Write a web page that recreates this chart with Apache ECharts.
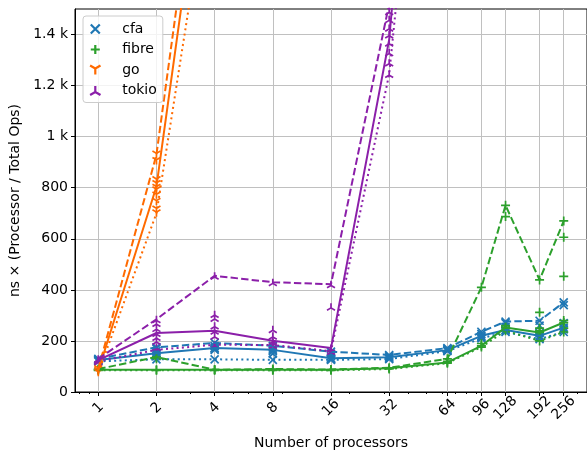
<!DOCTYPE html>
<html><head><meta charset="utf-8">
<script src="https://cdn.jsdelivr.net/npm/echarts@6/dist/echarts.min.js"></script>
<style>html,body{margin:0;padding:0;background:#fff}#c{width:587px;height:455px}</style>
</head><body><div id="c"></div>
<script>
// ---- data ----
const processors = [1, 2, 4, 8, 16, 32, 64, 96, 128, 192, 256];
const xTickLabels = ['1', '2', '4', '8', '16', '32', '64', '96', '128', '192', '256'];
const xMinorTicks = [0.8, 0.9, 3, 5, 6, 7, 9, 20, 30, 40, 50, 60, 70, 80, 90, 200, 300];
const yTickValues = [0, 200, 400, 600, 800, 1000, 1200, 1400];
const names = ['cfa', 'fibre', 'go', 'tokio'];

const cfaMedian = [125, 152, 172, 165, 132, 136, 164, 220, 243, 220, 252];
const cfaMax    = [130, 175, 192, 181, 158, 145, 172, 236, 276, 279, 351];
const cfaMin    = [120, 128, 128, 126, 126, 129, 160, 210, 235, 207, 235];
const cfaRuns = [
  [120, 123, 125, 127, 130],
  [128, 140, 150, 152, 160, 170, 175],
  [128, 165, 170, 172, 180, 192],
  [126, 150, 160, 165, 170, 181],
  [126, 128, 130, 132, 140, 150, 158],
  [129, 132, 136, 140, 145],
  [160, 162, 164, 168, 172],
  [210, 215, 220, 228, 236],
  [235, 240, 243, 255, 270, 276],
  [207, 215, 220, 230, 260, 279],
  [235, 245, 252, 270, 340, 351]
];

const fibreMedian = [87, 87, 87, 87, 87, 93, 116, 181, 253, 233, 272];
const fibreMax    = [90, 137, 87, 90, 88, 95, 130, 410, 731, 439, 670];
const fibreMin    = [85, 85, 85, 85, 85, 90, 113, 176, 240, 200, 235];
const fibreRuns = [
  [85, 87, 90],
  [85, 87, 130, 137],
  [85, 87, 88],
  [85, 87, 90],
  [85, 87, 88],
  [90, 93, 95],
  [113, 116, 120, 130],
  [176, 181, 190, 410],
  [240, 253, 260, 687, 731],
  [200, 225, 233, 240, 250, 312, 439],
  [235, 250, 272, 280, 453, 606, 670]
];

const goMedian = [83, 805, 2450];
const goMax    = [90, 930, 2600];
const goMin    = [75, 700, 2150];
const goRuns = [
  [75, 83, 90],
  [700, 715, 745, 770, 790, 800, 815, 830, 905, 930],
  [2150, 2450, 2600]
];

const tokioMedian = [125, 231, 240, 201, 172, 1380, 4000];
const tokioMax    = [130, 285, 455, 430, 422, 1520, 4500];
const tokioMin    = [120, 165, 185, 184, 160, 1245, 3500];
const tokioRuns = [
  [120, 125, 130],
  [176, 200, 215, 231, 250, 270, 285],
  [185, 220, 240, 260, 290, 305, 455],
  [184, 195, 201, 220, 246, 430],
  [160, 170, 172, 334, 422],
  [1245, 1290, 1330, 1368, 1400, 1426, 1460, 1491, 1520]
];

// ---- styling ----
const FONT = 'DejaVu Sans';
const colors = { cfa: '#1f77b4', fibre: '#2ca02c', go: '#ff6a00', tokio: '#8b1fa9' };
const symbols = {
  cfa: 'path://M-1,-1L1,1M-1,1L1,-1',
  fibre: 'path://M0,-1L0,1M-1,0L1,0',
  go: 'path://M0,0L0,1M0,0L0.866,-0.5M0,0L-0.866,-0.5',
  tokio: 'path://M0,0L0,-1M0,0L0.866,0.5M0,0L-0.866,0.5'
};
const symSize = { cfa: 8, fibre: 9, go: 8, tokio: 8 };
const dataSets = {
  cfa: [cfaMedian, cfaMax, cfaMin, cfaRuns],
  fibre: [fibreMedian, fibreMax, fibreMin, fibreRuns],
  go: [goMedian, goMax, goMin, goRuns],
  tokio: [tokioMedian, tokioMax, tokioMin, tokioRuns]
};

const series = [];
names.forEach(n => {
  const [med, mx, mn, runs] = dataSets[n];
  const c = colors[n];
  const mk = (arr, type, suffix) => ({
    name: n + suffix, type: 'line', xAxisIndex: 0, yAxisIndex: 0,
    data: arr.map((v, i) => [processors[i], v]),
    showSymbol: false, symbol: 'none', silent: true, animation: false,
    lineStyle: { color: c, width: 2, type: type }
  });
  series.push(mk(med, 'solid', '-median'));
  series.push(mk(mx, [7.4, 3.2], '-max'));
  series.push(mk(mn, [2, 3.3], '-min'));
  const pts = [];
  runs.forEach((list, i) => list.forEach(v => pts.push([processors[i], v])));
  series.push({
    name: n, type: 'scatter', xAxisIndex: 0, yAxisIndex: 0, data: pts,
    symbol: symbols[n], symbolSize: symSize[n], symbolKeepAspect: true,
    silent: true, animation: false,
    itemStyle: { color: 'rgba(0,0,0,0)', borderColor: c, borderWidth: 1.7, opacity: 1 }
  });
});

const xTickPos = processors.map(p => Math.log2(p));
const xMinorPos = xMinorTicks.map(p => Math.log2(p));
const labelOf = {};
processors.forEach((p, i) => { labelOf[xTickPos[i].toFixed(6)] = xTickLabels[i]; });

const option = {
  animation: false,
  backgroundColor: '#fff',
  textStyle: { fontFamily: FONT },
  grid: { left: 75, top: 9, width: 514, height: 384, show: true, borderColor: '#000', borderWidth: 1, backgroundColor: 'transparent', containLabel: false },
  legend: {
    orient: 'vertical', left: 83, top: 16,
    padding: [6, 6, 5, 6],
    itemWidth: 26, itemHeight: 9, itemGap: 6.5,
    backgroundColor: 'rgba(255,255,255,0.8)', borderColor: '#cccccc', borderWidth: 1, borderRadius: 3,
    formatter: name => '\u00a0\u00a0' + name,
    textStyle: { fontFamily: FONT, fontSize: 14, color: '#000' },
    data: names.map(n => ({ name: n, icon: symbols[n], itemStyle: { color: 'rgba(0,0,0,0)', borderColor: colors[n], borderWidth: 2.2 } }))
  },
  xAxis: [
    { type: 'log', logBase: 2, min: Math.pow(2, -0.4), max: Math.pow(2, 8.4), show: false, position: 'bottom' },
    {
      type: 'value', min: -0.4, max: 8.4, position: 'bottom',
      name: 'Number of processors', nameLocation: 'middle', nameGap: 44,
      nameTextStyle: { fontFamily: FONT, fontSize: 14, color: '#000' },
      axisLine: { show: true, onZero: false, lineStyle: { color: '#000', width: 1 } },
      axisTick: { show: true, length: 4, customValues: xTickPos, lineStyle: { color: '#000' } },
      axisLabel: {
        customValues: xTickPos, rotate: 45, align: 'center', verticalAlign: 'middle', margin: 16,
        fontFamily: FONT, fontSize: 14, color: '#000',
        formatter: v => labelOf[v.toFixed(6)] || ''
      },
      splitLine: { show: true, lineStyle: { color: '#c0c0c0', width: 1 } }
    },
    {
      type: 'value', min: -0.4, max: 8.4, position: 'bottom',
      axisLine: { show: false, onZero: false },
      axisTick: { show: true, length: 2, customValues: xMinorPos, lineStyle: { color: '#000' } },
      axisLabel: { show: false },
      splitLine: { show: false }
    }
  ],
  yAxis: {
    type: 'value', min: 0, max: 1500,
    name: 'ns × (Processor / Total Ops)', nameLocation: 'middle', nameGap: 48,
    nameTextStyle: { fontFamily: FONT, fontSize: 14, color: '#000' },
    axisLine: { show: true, onZero: false, lineStyle: { color: '#000', width: 1 } },
    axisTick: { show: true, length: 4, customValues: yTickValues, lineStyle: { color: '#000' } },
    axisLabel: {
      customValues: yTickValues, margin: 7, fontFamily: FONT, fontSize: 14, color: '#000',
      formatter: v => v >= 1000 ? (v / 1000) + ' k' : String(v)
    },
    splitLine: { show: true, lineStyle: { color: '#c0c0c0', width: 1 } }
  },
  series: series
};
const chart = echarts.init(document.getElementById('c'), null, { renderer: 'canvas' });
chart.setOption(option);
</script>
</body></html>
